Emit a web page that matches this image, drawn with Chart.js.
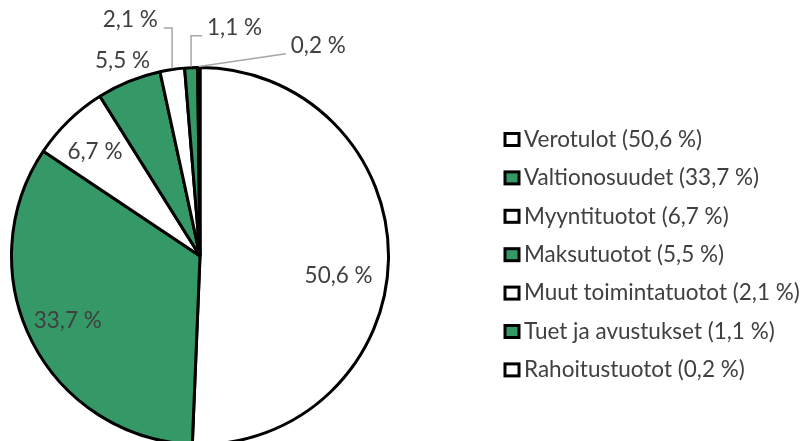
<!DOCTYPE html>
<html>
<head>
<meta charset="utf-8">
<style>
  html, body { margin: 0; padding: 0; background: #fff; overflow: hidden; }
  #wrap { position: relative; width: 803px; height: 441px; }
</style>
<script src="https://cdn.jsdelivr.net/npm/chart.js@4/dist/chart.umd.min.js"></script>
</head>
<body>
<div id="wrap"><canvas id="incomePie" width="803" height="441"></canvas></div>
<script>
  // data
  var categories = [
    "Verotulot",
    "Valtionosuudet",
    "Myyntituotot",
    "Maksutuotot",
    "Muut toimintatuotot",
    "Tuet ja avustukset",
    "Rahoitustuotot"
  ];
  var shares = [50.6, 33.7, 6.7, 5.5, 2.1, 1.1, 0.2];
  var sliceColors = ["#ffffff", "#349966", "#ffffff", "#349966", "#ffffff", "#349966", "#ffffff"];

  // label placement: radius factor of the slice, angle shift in degrees, leader style
  var labelRadius = [0.737, 0.774, 0.78, 1.105, 1.295, 1.215, 1.27];
  var labelShift = [7, 1, -1, 0.5, -8, 11.3, 29.7];
  var labelLeader = [null, null, null, null, "elbow", "elbow", "diag"];

  var FONT = "22.5px Lato, 'Open Sans', sans-serif";
  var TEXT = "#404040";

  function fmt(v) {
    return v.toFixed(1).replace(".", ",") + " %";
  }

  var sliceLabels = {
    id: "sliceLabels",
    afterDatasetsDraw: function (chart) {
      var ctx = chart.ctx;
      var meta = chart.getDatasetMeta(0);
      ctx.save();
      ctx.font = FONT;
      ctx.fillStyle = TEXT;
      ctx.textAlign = "center";
      ctx.textBaseline = "middle";
      meta.data.forEach(function (arc, i) {
        var p = arc.getProps(["x", "y", "startAngle", "endAngle", "outerRadius"], true);
        var mid = (p.startAngle + p.endAngle) / 2;
        var a = mid + labelShift[i] * Math.PI / 180;
        var r = (p.outerRadius + 1.5) * labelRadius[i];
        var lx = p.x + Math.cos(a) * r;
        var ly = p.y + Math.sin(a) * r;
        var txt = fmt(shares[i]);
        ctx.fillText(txt, lx, ly);

        if (labelLeader[i]) {
          var w = ctx.measureText(txt).width;
          var ex = p.x + Math.cos(mid) * (p.outerRadius + 1);
          var ey = p.y + Math.sin(mid) * (p.outerRadius + 1);
          var yy = ly + 8;
          var sx = lx > ex ? lx - w / 2 - 5 : lx + w / 2 + 6;
          ctx.strokeStyle = "#a6a6a6";
          ctx.lineWidth = 1.5;
          ctx.beginPath();
          ctx.moveTo(sx, yy);
          if (labelLeader[i] === "elbow") {
            ctx.lineTo(ex, yy);
          }
          ctx.lineTo(ex, ey);
          ctx.stroke();
        }
      });
      ctx.restore();
    }
  };

  var sideLegend = {
    id: "sideLegend",
    afterDraw: function (chart) {
      var ctx = chart.ctx;
      var x0 = 505, y0 = 139.5, step = 38.4;
      ctx.save();
      ctx.font = FONT;
      ctx.textAlign = "left";
      ctx.textBaseline = "middle";
      chart.data.labels.forEach(function (lab, i) {
        var cy = y0 + i * step;
        ctx.fillStyle = sliceColors[i];
        ctx.strokeStyle = "#000";
        ctx.lineWidth = 3;
        ctx.fillRect(x0, cy - 6, 14, 12);
        ctx.strokeRect(x0, cy - 6, 14, 12);
        ctx.fillStyle = TEXT;
        ctx.fillText(lab + " (" + fmt(shares[i]) + ")", x0 + 19, cy);
      });
      ctx.restore();
    }
  };

  new Chart(document.getElementById("incomePie"), {
    type: "pie",
    data: {
      labels: categories,
      datasets: [
        {
          data: shares,
          backgroundColor: sliceColors,
          borderColor: "#000000",
          borderWidth: 3,
          clip: false
        }
      ]
    },
    options: {
      responsive: false,
      animation: false,
      radius: 188.5,
      layout: { padding: { top: 71, bottom: 0, left: 0, right: 403 } },
      plugins: {
        legend: { display: false },
        tooltip: { enabled: false }
      }
    },
    plugins: [sliceLabels, sideLegend]
  });
</script>
</body>
</html>
